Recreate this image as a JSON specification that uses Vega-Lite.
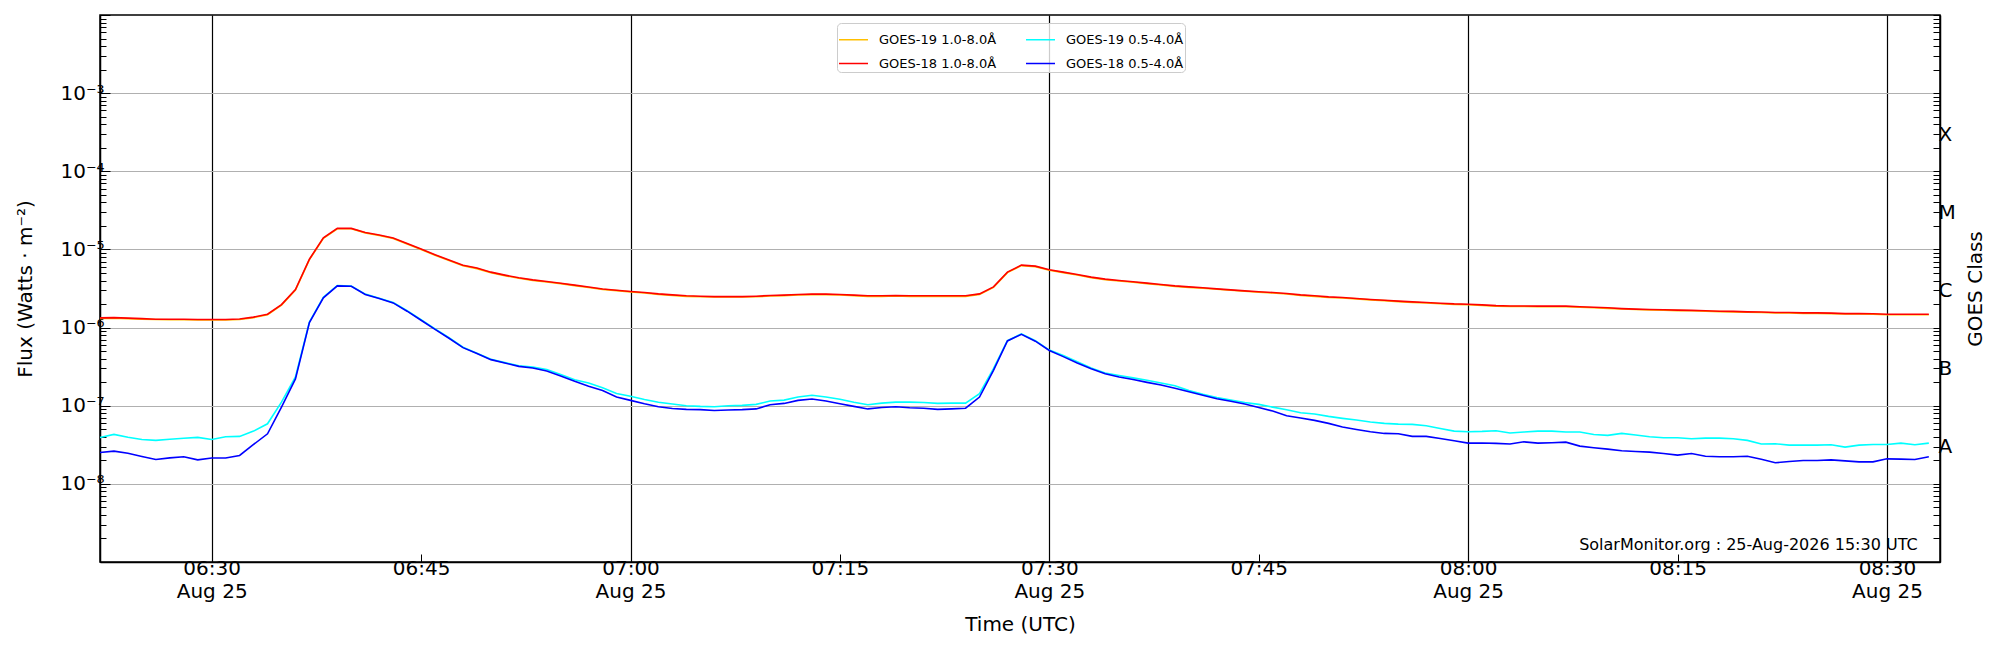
{
  "$schema": "https://vega.github.io/schema/vega-lite/v6.json",
  "width": 1840,
  "height": 547,
  "autosize": {"type": "none"},
  "padding": {"left": 100, "top": 15, "right": 60, "bottom": 88},
  "background": "white",
  "config": {
    "font": "DejaVu Sans",
    "view": {"stroke": "black", "strokeWidth": 1.5},
    "axis": {
      "labelFont": "DejaVu Sans",
      "titleFont": "DejaVu Sans",
      "labelColor": "black",
      "titleColor": "black",
      "titleFontWeight": "normal",
      "domainColor": "black",
      "domainWidth": 1.5,
      "tickColor": "black",
      "tickWidth": 1,
      "labelFontSize": 20,
      "titleFontSize": 20,
      "labelOverlap": false,
      "labelFlush": false,
      "labelBound": false
    }
  },
  "layer": [
    {
      "data": {
        "values": [
          {"t":"2026-08-25T06:22:00Z","g19l":1.31e-6,"g19s":3.93e-8,"g18l":1.33e-6,"g18s":2.52e-8},
          {"t":"2026-08-25T06:23:00Z","g19l":1.32e-6,"g19s":4.29e-8,"g18l":1.34e-6,"g18s":2.62e-8},
          {"t":"2026-08-25T06:24:00Z","g19l":1.30e-6,"g19s":3.95e-8,"g18l":1.32e-6,"g18s":2.47e-8},
          {"t":"2026-08-25T06:25:00Z","g19l":1.28e-6,"g19s":3.70e-8,"g18l":1.30e-6,"g18s":2.24e-8},
          {"t":"2026-08-25T06:26:00Z","g19l":1.27e-6,"g19s":3.60e-8,"g18l":1.28e-6,"g18s":2.05e-8},
          {"t":"2026-08-25T06:27:00Z","g19l":1.26e-6,"g19s":3.73e-8,"g18l":1.28e-6,"g18s":2.15e-8},
          {"t":"2026-08-25T06:28:00Z","g19l":1.26e-6,"g19s":3.84e-8,"g18l":1.28e-6,"g18s":2.22e-8},
          {"t":"2026-08-25T06:29:00Z","g19l":1.25e-6,"g19s":3.93e-8,"g18l":1.27e-6,"g18s":2.03e-8},
          {"t":"2026-08-25T06:30:00Z","g19l":1.25e-6,"g19s":3.70e-8,"g18l":1.27e-6,"g18s":2.14e-8},
          {"t":"2026-08-25T06:31:00Z","g19l":1.25e-6,"g19s":4.00e-8,"g18l":1.27e-6,"g18s":2.14e-8},
          {"t":"2026-08-25T06:32:00Z","g19l":1.27e-6,"g19s":4.05e-8,"g18l":1.29e-6,"g18s":2.31e-8},
          {"t":"2026-08-25T06:33:00Z","g19l":1.34e-6,"g19s":4.73e-8,"g18l":1.36e-6,"g18s":3.19e-8},
          {"t":"2026-08-25T06:34:00Z","g19l":1.46e-6,"g19s":5.87e-8,"g18l":1.48e-6,"g18s":4.37e-8},
          {"t":"2026-08-25T06:35:00Z","g19l":1.94e-6,"g19s":1.11e-7,"g18l":1.97e-6,"g18s":9.6e-8},
          {"t":"2026-08-25T06:36:00Z","g19l":3.02e-6,"g19s":2.33e-7,"g18l":3.07e-6,"g18s":2.2e-7},
          {"t":"2026-08-25T06:37:00Z","g19l":7.4e-6,"g19s":1.18e-6,"g18l":7.5e-6,"g18s":1.16e-6},
          {"t":"2026-08-25T06:38:00Z","g19l":1.39e-5,"g19s":2.45e-6,"g18l":1.41e-5,"g18s":2.4e-6},
          {"t":"2026-08-25T06:39:00Z","g19l":1.84e-5,"g19s":3.45e-6,"g18l":1.86e-5,"g18s":3.42e-6},
          {"t":"2026-08-25T06:40:00Z","g19l":1.84e-5,"g19s":3.40e-6,"g18l":1.86e-5,"g18s":3.38e-6},
          {"t":"2026-08-25T06:41:00Z","g19l":1.63e-5,"g19s":2.68e-6,"g18l":1.65e-5,"g18s":2.65e-6},
          {"t":"2026-08-25T06:42:00Z","g19l":1.51e-5,"g19s":2.37e-6,"g18l":1.53e-5,"g18s":2.35e-6},
          {"t":"2026-08-25T06:43:00Z","g19l":1.38e-5,"g19s":2.09e-6,"g18l":1.40e-5,"g18s":2.07e-6},
          {"t":"2026-08-25T06:44:00Z","g19l":1.17e-5,"g19s":1.64e-6,"g18l":1.19e-5,"g18s":1.62e-6},
          {"t":"2026-08-25T06:45:00Z","g19l":9.95e-6,"g19s":1.26e-6,"g18l":1.01e-5,"g18s":1.24e-6},
          {"t":"2026-08-25T06:46:00Z","g19l":8.42e-6,"g19s":9.6e-7,"g18l":8.55e-6,"g18s":9.5e-7},
          {"t":"2026-08-25T06:47:00Z","g19l":7.2e-6,"g19s":7.4e-7,"g18l":7.3e-6,"g18s":7.3e-7},
          {"t":"2026-08-25T06:48:00Z","g19l":6.2e-6,"g19s":5.6e-7,"g18l":6.29e-6,"g18s":5.54e-7},
          {"t":"2026-08-25T06:49:00Z","g19l":5.68e-6,"g19s":4.7e-7,"g18l":5.77e-6,"g18s":4.65e-7},
          {"t":"2026-08-25T06:50:00Z","g19l":5.05e-6,"g19s":3.93e-7,"g18l":5.12e-6,"g18s":3.89e-7},
          {"t":"2026-08-25T06:51:00Z","g19l":4.62e-6,"g19s":3.56e-7,"g18l":4.69e-6,"g18s":3.52e-7},
          {"t":"2026-08-25T06:52:00Z","g19l":4.27e-6,"g19s":3.25e-7,"g18l":4.33e-6,"g18s":3.19e-7},
          {"t":"2026-08-25T06:53:00Z","g19l":4.02e-6,"g19s":3.12e-7,"g18l":4.08e-6,"g18s":3.04e-7},
          {"t":"2026-08-25T06:54:00Z","g19l":3.83e-6,"g19s":2.9e-7,"g18l":3.89e-6,"g18s":2.78e-7},
          {"t":"2026-08-25T06:55:00Z","g19l":3.65e-6,"g19s":2.5e-7,"g18l":3.70e-6,"g18s":2.40e-7},
          {"t":"2026-08-25T06:56:00Z","g19l":3.44e-6,"g19s":2.15e-7,"g18l":3.49e-6,"g18s":2.05e-7},
          {"t":"2026-08-25T06:57:00Z","g19l":3.25e-6,"g19s":1.95e-7,"g18l":3.30e-6,"g18s":1.78e-7},
          {"t":"2026-08-25T06:58:00Z","g19l":3.08e-6,"g19s":1.70e-7,"g18l":3.12e-6,"g18s":1.57e-7},
          {"t":"2026-08-25T06:59:00Z","g19l":2.97e-6,"g19s":1.43e-7,"g18l":3.01e-6,"g18s":1.29e-7},
          {"t":"2026-08-25T07:00:00Z","g19l":2.86e-6,"g19s":1.32e-7,"g18l":2.90e-6,"g18s":1.17e-7},
          {"t":"2026-08-25T07:01:00Z","g19l":2.77e-6,"g19s":1.20e-7,"g18l":2.81e-6,"g18s":1.06e-7},
          {"t":"2026-08-25T07:02:00Z","g19l":2.66e-6,"g19s":1.11e-7,"g18l":2.70e-6,"g18s":9.7e-8},
          {"t":"2026-08-25T07:03:00Z","g19l":2.58e-6,"g19s":1.05e-7,"g18l":2.62e-6,"g18s":9.2e-8},
          {"t":"2026-08-25T07:04:00Z","g19l":2.51e-6,"g19s":1.00e-7,"g18l":2.55e-6,"g18s":8.97e-8},
          {"t":"2026-08-25T07:05:00Z","g19l":2.48e-6,"g19s":9.8e-8,"g18l":2.52e-6,"g18s":8.9e-8},
          {"t":"2026-08-25T07:06:00Z","g19l":2.46e-6,"g19s":9.7e-8,"g18l":2.49e-6,"g18s":8.7e-8},
          {"t":"2026-08-25T07:07:00Z","g19l":2.46e-6,"g19s":1.00e-7,"g18l":2.49e-6,"g18s":8.8e-8},
          {"t":"2026-08-25T07:08:00Z","g19l":2.46e-6,"g19s":1.01e-7,"g18l":2.49e-6,"g18s":8.9e-8},
          {"t":"2026-08-25T07:09:00Z","g19l":2.48e-6,"g19s":1.04e-7,"g18l":2.52e-6,"g18s":9.1e-8},
          {"t":"2026-08-25T07:10:00Z","g19l":2.53e-6,"g19s":1.15e-7,"g18l":2.57e-6,"g18s":1.03e-7},
          {"t":"2026-08-25T07:11:00Z","g19l":2.56e-6,"g19s":1.18e-7,"g18l":2.60e-6,"g18s":1.07e-7},
          {"t":"2026-08-25T07:12:00Z","g19l":2.61e-6,"g19s":1.29e-7,"g18l":2.65e-6,"g18s":1.17e-7},
          {"t":"2026-08-25T07:13:00Z","g19l":2.64e-6,"g19s":1.36e-7,"g18l":2.68e-6,"g18s":1.22e-7},
          {"t":"2026-08-25T07:14:00Z","g19l":2.64e-6,"g19s":1.29e-7,"g18l":2.68e-6,"g18s":1.15e-7},
          {"t":"2026-08-25T07:15:00Z","g19l":2.61e-6,"g19s":1.21e-7,"g18l":2.65e-6,"g18s":1.06e-7},
          {"t":"2026-08-25T07:16:00Z","g19l":2.56e-6,"g19s":1.11e-7,"g18l":2.60e-6,"g18s":9.8e-8},
          {"t":"2026-08-25T07:17:00Z","g19l":2.51e-6,"g19s":1.03e-7,"g18l":2.55e-6,"g18s":9.1e-8},
          {"t":"2026-08-25T07:18:00Z","g19l":2.51e-6,"g19s":1.08e-7,"g18l":2.55e-6,"g18s":9.5e-8},
          {"t":"2026-08-25T07:19:00Z","g19l":2.53e-6,"g19s":1.11e-7,"g18l":2.57e-6,"g18s":9.7e-8},
          {"t":"2026-08-25T07:20:00Z","g19l":2.51e-6,"g19s":1.11e-7,"g18l":2.55e-6,"g18s":9.4e-8},
          {"t":"2026-08-25T07:21:00Z","g19l":2.51e-6,"g19s":1.10e-7,"g18l":2.55e-6,"g18s":9.3e-8},
          {"t":"2026-08-25T07:22:00Z","g19l":2.51e-6,"g19s":1.07e-7,"g18l":2.55e-6,"g18s":8.97e-8},
          {"t":"2026-08-25T07:23:00Z","g19l":2.51e-6,"g19s":1.08e-7,"g18l":2.55e-6,"g18s":9.1e-8},
          {"t":"2026-08-25T07:24:00Z","g19l":2.51e-6,"g19s":1.08e-7,"g18l":2.55e-6,"g18s":9.3e-8},
          {"t":"2026-08-25T07:25:00Z","g19l":2.66e-6,"g19s":1.43e-7,"g18l":2.70e-6,"g18s":1.29e-7},
          {"t":"2026-08-25T07:26:00Z","g19l":3.27e-6,"g19s":2.98e-7,"g18l":3.32e-6,"g18s":2.84e-7},
          {"t":"2026-08-25T07:27:00Z","g19l":5.05e-6,"g19s":6.8e-7,"g18l":5.12e-6,"g18s":6.74e-7},
          {"t":"2026-08-25T07:28:00Z","g19l":6.21e-6,"g19s":8.3e-7,"g18l":6.30e-6,"g18s":8.2e-7},
          {"t":"2026-08-25T07:29:00Z","g19l":6.02e-6,"g19s":6.8e-7,"g18l":6.11e-6,"g18s":6.7e-7},
          {"t":"2026-08-25T07:30:00Z","g19l":5.41e-6,"g19s":5.15e-7,"g18l":5.49e-6,"g18s":5.10e-7},
          {"t":"2026-08-25T07:31:00Z","g19l":5.05e-6,"g19s":4.38e-7,"g18l":5.12e-6,"g18s":4.25e-7},
          {"t":"2026-08-25T07:32:00Z","g19l":4.70e-6,"g19s":3.66e-7,"g18l":4.77e-6,"g18s":3.52e-7},
          {"t":"2026-08-25T07:33:00Z","g19l":4.36e-6,"g19s":3.04e-7,"g18l":4.42e-6,"g18s":2.98e-7},
          {"t":"2026-08-25T07:34:00Z","g19l":4.11e-6,"g19s":2.62e-7,"g18l":4.17e-6,"g18s":2.57e-7},
          {"t":"2026-08-25T07:35:00Z","g19l":3.95e-6,"g19s":2.43e-7,"g18l":4.01e-6,"g18s":2.33e-7},
          {"t":"2026-08-25T07:36:00Z","g19l":3.80e-6,"g19s":2.27e-7,"g18l":3.85e-6,"g18s":2.16e-7},
          {"t":"2026-08-25T07:37:00Z","g19l":3.65e-6,"g19s":2.12e-7,"g18l":3.70e-6,"g18s":1.99e-7},
          {"t":"2026-08-25T07:38:00Z","g19l":3.51e-6,"g19s":1.95e-7,"g18l":3.56e-6,"g18s":1.84e-7},
          {"t":"2026-08-25T07:39:00Z","g19l":3.37e-6,"g19s":1.80e-7,"g18l":3.42e-6,"g18s":1.67e-7},
          {"t":"2026-08-25T07:40:00Z","g19l":3.27e-6,"g19s":1.56e-7,"g18l":3.32e-6,"g18s":1.51e-7},
          {"t":"2026-08-25T07:41:00Z","g19l":3.18e-6,"g19s":1.40e-7,"g18l":3.23e-6,"g18s":1.36e-7},
          {"t":"2026-08-25T07:42:00Z","g19l":3.09e-6,"g19s":1.27e-7,"g18l":3.13e-6,"g18s":1.23e-7},
          {"t":"2026-08-25T07:43:00Z","g19l":3.00e-6,"g19s":1.18e-7,"g18l":3.04e-6,"g18s":1.14e-7},
          {"t":"2026-08-25T07:44:00Z","g19l":2.91e-6,"g19s":1.10e-7,"g18l":2.95e-6,"g18s":1.05e-7},
          {"t":"2026-08-25T07:45:00Z","g19l":2.83e-6,"g19s":1.04e-7,"g18l":2.87e-6,"g18s":9.5e-8},
          {"t":"2026-08-25T07:46:00Z","g19l":2.77e-6,"g19s":9.6e-8,"g18l":2.81e-6,"g18s":8.55e-8},
          {"t":"2026-08-25T07:47:00Z","g19l":2.69e-6,"g19s":8.89e-8,"g18l":2.73e-6,"g18s":7.45e-8},
          {"t":"2026-08-25T07:48:00Z","g19l":2.58e-6,"g19s":8.13e-8,"g18l":2.62e-6,"g18s":6.95e-8},
          {"t":"2026-08-25T07:49:00Z","g19l":2.51e-6,"g19s":7.82e-8,"g18l":2.55e-6,"g18s":6.49e-8},
          {"t":"2026-08-25T07:50:00Z","g19l":2.43e-6,"g19s":7.3e-8,"g18l":2.47e-6,"g18s":5.94e-8},
          {"t":"2026-08-25T07:51:00Z","g19l":2.39e-6,"g19s":6.89e-8,"g18l":2.43e-6,"g18s":5.33e-8},
          {"t":"2026-08-25T07:52:00Z","g19l":2.33e-6,"g19s":6.55e-8,"g18l":2.36e-6,"g18s":4.97e-8},
          {"t":"2026-08-25T07:53:00Z","g19l":2.26e-6,"g19s":6.18e-8,"g18l":2.29e-6,"g18s":4.65e-8},
          {"t":"2026-08-25T07:54:00Z","g19l":2.21e-6,"g19s":5.94e-8,"g18l":2.24e-6,"g18s":4.42e-8},
          {"t":"2026-08-25T07:55:00Z","g19l":2.15e-6,"g19s":5.82e-8,"g18l":2.18e-6,"g18s":4.38e-8},
          {"t":"2026-08-25T07:56:00Z","g19l":2.10e-6,"g19s":5.77e-8,"g18l":2.13e-6,"g18s":4.05e-8},
          {"t":"2026-08-25T07:57:00Z","g19l":2.06e-6,"g19s":5.55e-8,"g18l":2.09e-6,"g18s":4.05e-8},
          {"t":"2026-08-25T07:58:00Z","g19l":2.02e-6,"g19s":5.12e-8,"g18l":2.05e-6,"g18s":3.81e-8},
          {"t":"2026-08-25T07:59:00Z","g19l":1.98e-6,"g19s":4.73e-8,"g18l":2.01e-6,"g18s":3.56e-8},
          {"t":"2026-08-25T08:00:00Z","g19l":1.96e-6,"g19s":4.65e-8,"g18l":1.99e-6,"g18s":3.32e-8},
          {"t":"2026-08-25T08:01:00Z","g19l":1.92e-6,"g19s":4.69e-8,"g18l":1.95e-6,"g18s":3.34e-8},
          {"t":"2026-08-25T08:02:00Z","g19l":1.88e-6,"g19s":4.78e-8,"g18l":1.91e-6,"g18s":3.30e-8},
          {"t":"2026-08-25T08:03:00Z","g19l":1.86e-6,"g19s":4.47e-8,"g18l":1.89e-6,"g18s":3.23e-8},
          {"t":"2026-08-25T08:04:00Z","g19l":1.86e-6,"g19s":4.60e-8,"g18l":1.89e-6,"g18s":3.45e-8},
          {"t":"2026-08-25T08:05:00Z","g19l":1.85e-6,"g19s":4.73e-8,"g18l":1.88e-6,"g18s":3.32e-8},
          {"t":"2026-08-25T08:06:00Z","g19l":1.85e-6,"g19s":4.73e-8,"g18l":1.88e-6,"g18s":3.36e-8},
          {"t":"2026-08-25T08:07:00Z","g19l":1.85e-6,"g19s":4.60e-8,"g18l":1.88e-6,"g18s":3.42e-8},
          {"t":"2026-08-25T08:08:00Z","g19l":1.82e-6,"g19s":4.60e-8,"g18l":1.85e-6,"g18s":3.04e-8},
          {"t":"2026-08-25T08:09:00Z","g19l":1.79e-6,"g19s":4.28e-8,"g18l":1.82e-6,"g18s":2.90e-8},
          {"t":"2026-08-25T08:10:00Z","g19l":1.76e-6,"g19s":4.17e-8,"g18l":1.79e-6,"g18s":2.78e-8},
          {"t":"2026-08-25T08:11:00Z","g19l":1.73e-6,"g19s":4.42e-8,"g18l":1.75e-6,"g18s":2.65e-8},
          {"t":"2026-08-25T08:12:00Z","g19l":1.70e-6,"g19s":4.21e-8,"g18l":1.72e-6,"g18s":2.60e-8},
          {"t":"2026-08-25T08:13:00Z","g19l":1.68e-6,"g19s":4.00e-8,"g18l":1.70e-6,"g18s":2.55e-8},
          {"t":"2026-08-25T08:14:00Z","g19l":1.67e-6,"g19s":3.89e-8,"g18l":1.69e-6,"g18s":2.45e-8},
          {"t":"2026-08-25T08:15:00Z","g19l":1.65e-6,"g19s":3.89e-8,"g18l":1.67e-6,"g18s":2.33e-8},
          {"t":"2026-08-25T08:16:00Z","g19l":1.64e-6,"g19s":3.78e-8,"g18l":1.66e-6,"g18s":2.45e-8},
          {"t":"2026-08-25T08:17:00Z","g19l":1.62e-6,"g19s":3.85e-8,"g18l":1.64e-6,"g18s":2.26e-8},
          {"t":"2026-08-25T08:18:00Z","g19l":1.60e-6,"g19s":3.85e-8,"g18l":1.62e-6,"g18s":2.22e-8},
          {"t":"2026-08-25T08:19:00Z","g19l":1.59e-6,"g19s":3.78e-8,"g18l":1.61e-6,"g18s":2.22e-8},
          {"t":"2026-08-25T08:20:00Z","g19l":1.57e-6,"g19s":3.60e-8,"g18l":1.59e-6,"g18s":2.26e-8},
          {"t":"2026-08-25T08:21:00Z","g19l":1.56e-6,"g19s":3.23e-8,"g18l":1.58e-6,"g18s":2.07e-8},
          {"t":"2026-08-25T08:22:00Z","g19l":1.54e-6,"g19s":3.26e-8,"g18l":1.56e-6,"g18s":1.86e-8},
          {"t":"2026-08-25T08:23:00Z","g19l":1.54e-6,"g19s":3.13e-8,"g18l":1.56e-6,"g18s":1.93e-8},
          {"t":"2026-08-25T08:24:00Z","g19l":1.52e-6,"g19s":3.13e-8,"g18l":1.54e-6,"g18s":1.99e-8},
          {"t":"2026-08-25T08:25:00Z","g19l":1.52e-6,"g19s":3.13e-8,"g18l":1.54e-6,"g18s":1.99e-8},
          {"t":"2026-08-25T08:26:00Z","g19l":1.51e-6,"g19s":3.16e-8,"g18l":1.53e-6,"g18s":2.03e-8},
          {"t":"2026-08-25T08:27:00Z","g19l":1.49e-6,"g19s":2.95e-8,"g18l":1.51e-6,"g18s":1.97e-8},
          {"t":"2026-08-25T08:28:00Z","g19l":1.49e-6,"g19s":3.13e-8,"g18l":1.51e-6,"g18s":1.91e-8},
          {"t":"2026-08-25T08:29:00Z","g19l":1.48e-6,"g19s":3.19e-8,"g18l":1.50e-6,"g18s":1.91e-8},
          {"t":"2026-08-25T08:30:00Z","g19l":1.46e-6,"g19s":3.19e-8,"g18l":1.48e-6,"g18s":2.09e-8},
          {"t":"2026-08-25T08:31:00Z","g19l":1.46e-6,"g19s":3.32e-8,"g18l":1.48e-6,"g18s":2.07e-8},
          {"t":"2026-08-25T08:32:00Z","g19l":1.46e-6,"g19s":3.16e-8,"g18l":1.48e-6,"g18s":2.05e-8},
          {"t":"2026-08-25T08:33:00Z","g19l":1.46e-6,"g19s":3.32e-8,"g18l":1.48e-6,"g18s":2.22e-8}
        ]
      },
      "transform": [{"fold": ["g19l", "g19s", "g18l", "g18s"], "as": ["series", "flux"]}],
      "mark": {"type": "line", "strokeWidth": 1.6},
      "encoding": {
        "x": {
          "field": "t",
          "type": "temporal",
          "scale": {"type": "utc", "domain": ["2026-08-25T06:22:00Z", "2026-08-25T08:33:48Z"]},
          "axis": {
            "values": [
              {"year": 2026, "month": 8, "date": 25, "hours": 6, "minutes": 30, "utc": true},
              {"year": 2026, "month": 8, "date": 25, "hours": 6, "minutes": 45, "utc": true},
              {"year": 2026, "month": 8, "date": 25, "hours": 7, "minutes": 0, "utc": true},
              {"year": 2026, "month": 8, "date": 25, "hours": 7, "minutes": 15, "utc": true},
              {"year": 2026, "month": 8, "date": 25, "hours": 7, "minutes": 30, "utc": true},
              {"year": 2026, "month": 8, "date": 25, "hours": 7, "minutes": 45, "utc": true},
              {"year": 2026, "month": 8, "date": 25, "hours": 8, "minutes": 0, "utc": true},
              {"year": 2026, "month": 8, "date": 25, "hours": 8, "minutes": 15, "utc": true},
              {"year": 2026, "month": 8, "date": 25, "hours": 8, "minutes": 30, "utc": true}
            ],
            "labelExpr": "utcminutes(datum.value) % 30 == 0 ? [utcFormat(datum.value, '%H:%M'), utcFormat(datum.value, '%b %d')] : utcFormat(datum.value, '%H:%M')",
            "labelLineHeight": 23,
            "labelPadding": 4,
            "tickSize": -8,
            "grid": true,
            "gridColor": "black",
            "gridWidth": 1.2,
            "gridOpacity": {"condition": {"test": "utcminutes(datum.value) % 30 == 0", "value": 1}, "value": 0},
            "title": "Time (UTC)",
            "titleY": 62,
            "titleBaseline": "middle"
          }
        },
        "y": {
          "field": "flux",
          "type": "quantitative",
          "scale": {"type": "log", "domain": [1e-9, 1e-2]},
          "axis": {
            "orient": "left",
            "values": [1e-9,2e-9,3e-9,4e-9,5e-9,6e-9,7e-9,8e-9,9e-9,1e-8,2e-8,3e-8,4e-8,5e-8,6e-8,7e-8,8e-8,9e-8,1e-7,2e-7,3e-7,4e-7,5e-7,6e-7,7e-7,8e-7,9e-7,1e-6,2e-6,3e-6,4e-6,5e-6,6e-6,7e-6,8e-6,9e-6,1e-5,2e-5,3e-5,4e-5,5e-5,6e-5,7e-5,8e-5,9e-5,1e-4,2e-4,3e-4,4e-4,5e-4,6e-4,7e-4,8e-4,9e-4,1e-3,2e-3,3e-3,4e-3,5e-3,6e-3,7e-3,8e-3,9e-3,1e-2],
            "labelExpr": "abs(datum.value / pow(10, round(log(datum.value) / LN10)) - 1) < 0.001 && round(log(datum.value) / LN10) <= -3 && round(log(datum.value) / LN10) >= -8 ? '10' + ['⁻⁸', '⁻⁷', '⁻⁶', '⁻⁵', '⁻⁴', '⁻³'][round(log(datum.value) / LN10) + 8] : ''",
            "labelPadding": 6,
            "labelBaseline": "middle",
            "tickSize": {"condition": {"test": "abs(datum.value / pow(10, round(log(datum.value) / LN10)) - 1) < 0.001", "value": -10}, "value": -6},
            "grid": true,
            "gridColor": "#b0b0b0",
            "gridWidth": 1,
            "gridOpacity": {"condition": {"test": "abs(datum.value / pow(10, round(log(datum.value) / LN10)) - 1) < 0.001 && round(log(datum.value) / LN10) <= -3 && round(log(datum.value) / LN10) >= -8", "value": 1}, "value": 0},
            "title": "Flux (Watts · m⁻²)",
            "titleX": -75,
            "titleY": 273.5,
            "titleAngle": -90,
            "titleAlign": "center",
            "titleBaseline": "middle"
          }
        },
        "color": {
          "field": "series",
          "type": "nominal",
          "scale": {"domain": ["g19l", "g18l", "g19s", "g18s"], "range": ["#ffbf00", "#ff0000", "#00ffff", "#0000ff"]},
          "legend": {
            "orient": "none",
            "legendX": 737,
            "legendY": 8,
            "columns": 2,
            "title": null,
            "symbolType": "stroke",
            "symbolSize": 841,
            "symbolStrokeWidth": 1.5,
            "labelFont": "DejaVu Sans",
            "labelFontSize": 13,
            "labelColor": "black",
            "labelOffset": 10,
            "labelExpr": "{'g19l': 'GOES-19 1.0-8.0Å', 'g19s': 'GOES-19 0.5-4.0Å', 'g18l': 'GOES-18 1.0-8.0Å', 'g18s': 'GOES-18 0.5-4.0Å'}[datum.label]",
            "padding": 1,
            "rowPadding": 1,
            "columnPadding": 26,
            "strokeColor": "#cccccc",
            "fillColor": "rgba(255,255,255,0.8)",
            "cornerRadius": 4
          }
        }
      }
    },
    {
      "data": {"values": [{"note": "SolarMonitor.org : 25-Aug-2026 15:30 UTC"}]},
      "mark": {"type": "text", "align": "right", "baseline": "alphabetic", "fontSize": 16, "font": "DejaVu Sans", "color": "black"},
      "encoding": {
        "text": {"field": "note"},
        "x": {"datum": {"year": 2026, "month": 8, "date": 25, "hours": 8, "minutes": 32, "seconds": 12, "utc": true}, "type": "temporal"},
        "y": {
          "datum": 1.43e-9,
          "type": "quantitative",
          "scale": {"type": "log", "domain": [1e-9, 1e-2]},
          "axis": {
            "orient": "right",
            "values": [1e-9,2e-9,3e-9,4e-9,5e-9,6e-9,7e-9,8e-9,9e-9,1e-8,2e-8,3e-8,4e-8,5e-8,6e-8,7e-8,8e-8,9e-8,1e-7,2e-7,3e-7,4e-7,5e-7,6e-7,7e-7,8e-7,9e-7,1e-6,2e-6,3e-6,4e-6,5e-6,6e-6,7e-6,8e-6,9e-6,1e-5,2e-5,3e-5,4e-5,5e-5,6e-5,7e-5,8e-5,9e-5,1e-4,2e-4,3e-4,4e-4,5e-4,6e-4,7e-4,8e-4,9e-4,1e-3,2e-3,3e-3,4e-3,5e-3,6e-3,7e-3,8e-3,9e-3,1e-2],
            "labelExpr": "abs(datum.value / 3e-8 - 1) < 0.001 ? 'A' : abs(datum.value / 3e-7 - 1) < 0.001 ? 'B' : abs(datum.value / 3e-6 - 1) < 0.001 ? 'C' : abs(datum.value / 3e-5 - 1) < 0.001 ? 'M' : abs(datum.value / 3e-4 - 1) < 0.001 ? 'X' : ''",
            "labelPadding": 5,
            "labelBaseline": "middle",
            "tickSize": -7,
            "grid": false,
            "title": "GOES Class",
            "titleX": 35,
            "titleY": 273.5,
            "titleAngle": -90,
            "titleAlign": "center",
            "titleBaseline": "middle"
          }
        }
      }
    }
  ],
  "resolve": {"scale": {"y": "independent"}, "axis": {"y": "independent"}}
}
